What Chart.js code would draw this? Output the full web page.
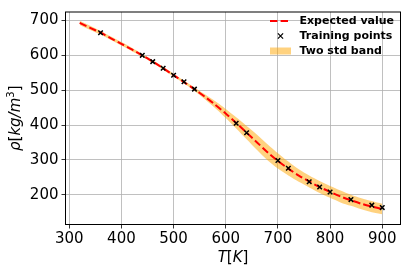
<!DOCTYPE html>
<html>
<head>
<meta charset="utf-8">
<script src="https://cdn.jsdelivr.net/npm/chart.js@4.4.1/dist/chart.umd.min.js"></script>
<style>
html,body{margin:0;padding:0;background:#fff;}
#wrap{position:relative;width:406px;height:274px;}
</style>
</head>
<body>
<div id="wrap"><canvas id="c" width="406" height="274"></canvas></div>
<script>
// Temperature grid for the expected value and band
const gridT = [320,340,360,380,400,420,440,460,480,500,520,540,560,580,600,620,640,660,680,700,720,740,760,780,800,820,840,860,880,900];
const expected = [693,679,665,649,633,617,600,582,563,543,523,503,481,458,433,406,378,350,322,297,275,255,238,222,208,195,184,174,166,159];
const twoStd = [6,6,5,5,5,5,4,4,4,4,4,5,7,10,13,16,19,22,23,22,20,18,17,17,17,17,16,16,16,15];
// Training points
const trainT = [360,440,460,480,500,520,540,620,640,700,720,760,780,800,840,880,900];
const trainRho = [665,600,582,563,543,524,503,405,378,298,276,237,222,208,186,170,163];
// Tick labels
const xTicks = [300,400,500,600,700,800,900];
const yTicks = [200,300,400,500,600,700];

const linePts = gridT.map((t,i)=>({x:t,y:expected[i]}));
const upperPts = gridT.map((t,i)=>({x:t,y:expected[i]+twoStd[i]}));
const lowerPts = gridT.map((t,i)=>({x:t,y:expected[i]-twoStd[i]}));
const trainPts = trainT.map((t,i)=>({x:t,y:trainRho[i]}));

const AREA = {left:65.5, right:403, top:7, bottom:224.5};
const W = 406, H = 274;

function drawSegs(ctx, segs, x, y, align){
  let total = 0;
  segs.forEach(s=>{ctx.font=s.f; total += ctx.measureText(s.t).width;});
  let cx = align==='center' ? x - total/2 : x;
  segs.forEach(s=>{ctx.font=s.f; ctx.fillText(s.t, cx, y + (s.dy||0)); cx += ctx.measureText(s.t).width;});
}

const overlay = {
  id:'overlay',
  afterDraw(chart){
    const ctx = chart.ctx;
    ctx.save();
    ctx.fillStyle = '#000';
    ctx.textBaseline = 'middle';
    ctx.textAlign = 'left';
    const ca = chart.chartArea;
    const it = 'italic 15px "DejaVu Sans"', up = '15px "DejaVu Sans"', sm='10px "DejaVu Sans"';
    drawSegs(ctx, [{t:'T',f:it},{t:'[',f:up},{t:'K',f:it},{t:']',f:up}], (ca.left+ca.right)/2, 258, 'center');
    ctx.save();
    ctx.translate(16, (ca.top+ca.bottom)/2);
    ctx.rotate(-Math.PI/2);
    drawSegs(ctx, [{t:'ρ',f:it},{t:'[',f:up},{t:'kg/m',f:it},{t:'3',f:sm,dy:-5},{t:']',f:up}], 0, 0, 'center');
    ctx.restore();
    // legend
    const lx = 270, tx = 299.5, ys = [21,36,51];
    ctx.font = 'bold 11px "DejaVu Sans"';
    ctx.strokeStyle = '#ff0000'; ctx.lineWidth = 2; ctx.setLineDash([7.4,3.2]);
    ctx.beginPath(); ctx.moveTo(lx, ys[0]); ctx.lineTo(lx+21, ys[0]); ctx.stroke();
    ctx.setLineDash([]);
    ctx.fillText('Expected value', tx, ys[0]);
    ctx.strokeStyle='#000'; ctx.lineWidth=1.2;
    const mx = lx+10.5, r=2.6;
    ctx.beginPath(); ctx.moveTo(mx-r,ys[1]-r); ctx.lineTo(mx+r,ys[1]+r); ctx.moveTo(mx-r,ys[1]+r); ctx.lineTo(mx+r,ys[1]-r); ctx.stroke();
    ctx.fillText('Training points', tx, ys[1]);
    ctx.fillStyle='rgba(255,165,0,0.5)';
    ctx.fillRect(lx, ys[2]-3.5, 21, 7);
    ctx.fillStyle='#000';
    ctx.fillText('Two std band', tx, ys[2]);
    ctx.restore();
  }
};

new Chart(document.getElementById('c'), {
  type:'scatter',
  data:{datasets:[
    {label:'upper', data:upperPts, showLine:true, pointRadius:0, borderWidth:0, borderColor:'rgba(0,0,0,0)', fill:false, tension:0.3, order:3},
    {label:'Two std band', data:lowerPts, showLine:true, pointRadius:0, borderWidth:0, borderColor:'rgba(0,0,0,0)', backgroundColor:'rgba(255,165,0,0.5)', fill:'-1', tension:0.3, order:3},
    {label:'Expected value', data:linePts, showLine:true, pointRadius:0, borderColor:'#ff0000', borderWidth:2, borderDash:[7.4,3.2], fill:false, tension:0.3, order:2},
    {label:'Training points', data:trainPts, showLine:false, pointStyle:'crossRot', pointRadius:3.2, borderColor:'#000', borderWidth:1.5, order:1}
  ]},
  options:{
    responsive:false, animation:false, devicePixelRatio:1,
    layout:{padding:{left:0, right:W-AREA.right, top:AREA.top, bottom:0}},
    plugins:{legend:{display:false}, tooltip:{enabled:false}},
    scales:{
      x:{type:'linear', min:292.8, max:935,
        afterBuildTicks(s){s.ticks = xTicks.map(v=>({value:v}));},
        afterFit(s){s.height = H-AREA.bottom;},
        grid:{color:'#b0b0b0', lineWidth:0.8, tickLength:4, tickColor:'#000', drawTicks:true},
        border:{display:true, color:'#000', width:1},
        ticks:{font:{family:'DejaVu Sans', size:15}, color:'#000', padding:2, maxRotation:0, autoSkip:false}
      },
      y:{type:'linear', min:114.5, max:724.4,
        afterBuildTicks(s){s.ticks = yTicks.map(v=>({value:v}));},
        afterFit(s){s.width = AREA.left;},
        grid:{color:'#b0b0b0', lineWidth:0.8, tickLength:4, tickColor:'#000', drawTicks:true},
        border:{display:true, color:'#000', width:1},
        ticks:{font:{family:'DejaVu Sans', size:15}, color:'#000', padding:3, autoSkip:false}
      }
    }
  },
  plugins:[overlay, {id:'frame', afterDraw(chart){const c=chart.ctx,a=chart.chartArea;c.save();c.strokeStyle='#000';c.lineWidth=1;c.strokeRect(a.left,a.top,a.right-a.left,a.bottom-a.top);c.restore();}}]
});
</script>
</body>
</html>
